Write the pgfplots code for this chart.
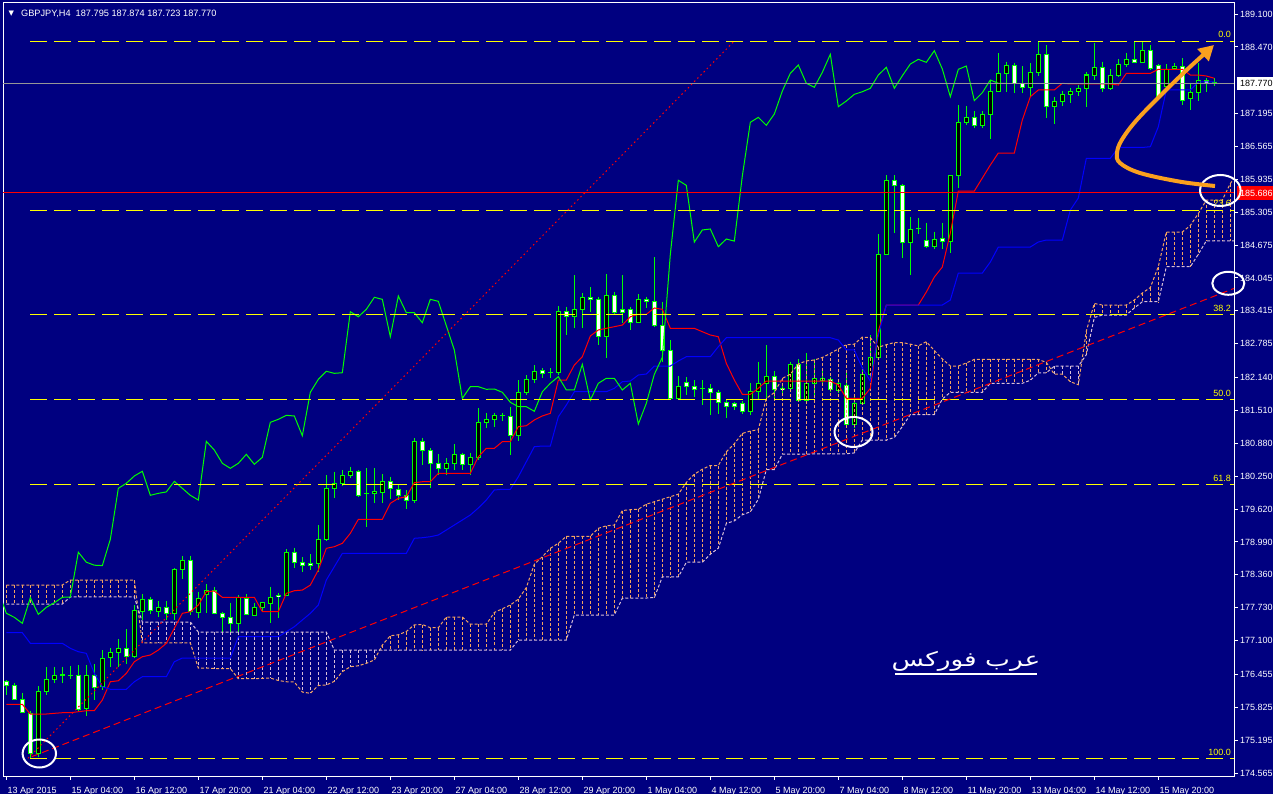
\documentclass[border=0pt]{standalone}
\usepackage{pgfplots}
\pgfplotsset{compat=1.18}
\usepackage{pgfplotstable}
\usepackage{graphicx}
\usepackage{fontspec}
\setmainfont{Liberation Sans}
\newfontfamily\arabicfont[Script=Arabic]{DejaVu Sans}
\newfontfamily\symfont{DejaVu Sans}
\TeXXeTstate=1
\usetikzlibrary{arrows.meta}
\definecolor{bg}{RGB}{0,0,128}
\definecolor{cg}{RGB}{0,255,0}
\definecolor{sandy}{RGB}{244,164,96}
\definecolor{thist}{RGB}{216,191,216}
\definecolor{fibc}{RGB}{255,255,0}
\definecolor{arrc}{RGB}{250,160,30}
\definecolor{lastc}{RGB}{150,150,150}
\newcommand\lbl{\fontsize{9bp}{11bp}\selectfont}

\pgfplotstableread{
i O H L C
0 176.313 176.346 176.059 176.236
1 176.236 176.294 175.963 175.976
2 175.976 176.104 175.708 175.727
3 175.708 175.758 174.847 174.942
4 174.942 176.231 174.866 176.122
5 176.122 176.589 176.059 176.360
6 176.360 176.601 176.294 176.436
7 176.442 176.601 176.294 176.455
8 176.436 176.614 176.370 176.436
9 176.436 176.627 175.758 175.772
10 175.804 176.633 175.657 176.436
11 176.436 176.652 175.963 176.198
12 176.217 176.920 176.155 176.762
13 176.773 176.965 176.601 176.876
14 176.876 177.125 176.601 176.953
15 176.953 177.317 176.652 176.792
16 176.804 177.782 176.762 177.686
17 177.667 177.986 177.495 177.892
18 177.892 177.942 177.610 177.673
19 177.654 177.853 177.558 177.738
20 177.738 177.865 177.495 177.623
21 177.623 178.485 177.495 178.466
22 178.466 178.721 178.274 178.644
23 178.644 178.726 177.591 177.654
24 177.642 178.037 177.527 177.911
25 177.993 178.179 177.636 178.056
26 178.056 178.133 177.623 177.623
27 177.623 177.654 177.240 177.546
28 177.546 177.826 177.240 177.432
29 177.432 177.974 177.271 177.922
30 177.911 177.986 177.591 177.604
31 177.577 177.826 177.571 177.738
32 177.738 177.845 177.654 177.826
33 177.815 178.133 177.444 177.930
34 177.974 178.006 177.539 177.936
35 177.974 178.855 177.960 178.793
36 178.793 178.881 178.487 178.602
37 178.594 178.697 178.420 178.545
38 178.581 178.755 178.453 178.537
39 178.581 179.308 178.420 179.040
40 179.040 180.272 179.014 180.017
41 180.017 180.335 179.837 180.113
42 180.113 180.368 180.062 180.253
43 180.266 180.431 180.209 180.343
44 180.343 180.368 179.856 179.883
45 179.921 180.400 179.270 179.921
46 179.927 180.400 179.730 179.948
47 179.942 180.285 179.730 180.151
48 180.151 180.239 179.806 180.017
49 179.991 180.081 179.793 179.883
50 179.876 179.985 179.615 179.793
51 179.780 180.975 179.730 180.917
52 180.917 180.986 180.463 180.750
53 180.737 180.783 180.017 180.496
54 180.496 180.674 180.272 180.400
55 180.400 180.592 180.272 180.496
56 180.496 180.865 180.368 180.668
57 180.668 180.699 180.368 180.477
58 180.477 180.699 180.272 180.611
59 180.611 181.549 180.559 181.281
60 181.273 181.465 181.166 181.338
61 181.327 181.453 181.197 181.415
62 181.402 181.465 181.312 181.402
63 181.388 181.568 180.655 181.024
64 181.024 182.091 180.929 181.856
65 181.856 182.187 181.804 182.104
66 182.104 182.373 182.028 182.258
67 182.269 182.315 182.124 182.219
68 182.231 182.315 182.124 182.231
69 182.231 183.508 182.187 183.399
70 183.399 183.495 182.953 183.303
71 183.303 184.102 183.081 183.445
72 183.445 183.751 183.081 183.675
73 183.675 183.866 183.399 183.636
74 183.636 183.686 182.761 182.920
75 182.920 184.121 182.518 183.700
76 183.700 183.782 183.336 183.380
77 183.432 184.102 183.176 183.380
78 183.432 183.495 183.049 183.189
79 183.189 183.732 183.176 183.636
80 183.636 183.686 183.464 183.598
81 183.598 184.441 183.112 183.131
82 183.138 183.591 182.440 182.665
83 182.665 182.857 181.740 181.740
84 181.740 182.168 181.740 181.963
85 182.047 182.143 181.804 181.963
86 181.963 182.091 181.771 181.913
87 181.919 182.091 181.612 181.919
88 181.932 182.009 181.421 181.856
89 181.856 181.900 181.434 181.664
90 181.664 181.708 181.357 181.580
91 181.645 181.675 181.517 181.580
92 181.645 181.695 181.434 181.492
93 181.492 182.028 181.421 181.867
94 181.867 182.442 181.708 182.028
95 182.028 182.761 181.740 182.155
96 182.155 182.270 181.740 181.900
97 181.932 182.028 181.799 181.900
98 181.932 182.442 181.900 182.392
99 182.392 182.487 181.676 181.708
100 181.708 182.613 181.651 182.028
101 182.028 182.487 181.771 182.124
102 182.091 182.270 182.028 182.124
103 182.104 182.155 181.867 181.900
104 181.886 182.091 181.836 182.028
105 181.995 182.283 181.197 181.248
106 181.248 181.771 181.166 181.645
107 181.645 182.283 181.612 182.200
108 182.200 182.953 182.058 182.526
109 182.526 184.881 182.474 184.498
110 184.498 186.017 184.485 185.915
111 185.915 186.017 184.900 185.819
112 185.811 185.844 184.422 184.732
113 184.732 185.218 184.102 184.964
114 184.983 185.199 184.887 184.983
115 184.772 185.103 184.613 184.644
116 184.644 184.931 184.594 184.791
117 184.808 185.103 184.594 184.751
118 184.751 185.998 184.529 185.998
119 185.998 187.357 185.774 187.026
120 187.026 187.338 186.974 187.121
121 187.121 187.242 186.911 186.968
122 186.968 187.242 186.911 187.185
123 187.185 187.836 186.700 187.625
124 187.625 188.347 187.612 187.964
125 187.964 188.186 187.612 188.123
126 188.123 188.167 187.593 187.773
127 187.773 188.104 187.593 187.696
128 187.696 188.156 187.516 187.983
129 187.983 188.569 187.913 188.328
130 188.328 188.506 187.115 187.325
131 187.325 187.516 186.988 187.434
132 187.420 187.625 187.338 187.562
133 187.562 187.677 187.389 187.612
134 187.612 187.740 187.530 187.677
135 187.677 187.995 187.325 187.932
136 187.918 188.550 187.836 188.079
137 188.079 188.186 187.612 187.677
138 187.677 188.041 187.645 187.918
139 187.918 188.232 187.899 188.142
140 188.137 188.359 188.091 188.232
141 188.232 188.569 188.167 188.175
142 188.175 188.569 188.156 188.397
143 188.397 188.506 188.028 188.047
144 188.123 188.142 187.486 187.516
145 187.721 188.137 187.677 188.041
146 188.060 188.156 188.028 188.104
147 188.104 188.252 187.357 187.440
148 187.486 187.784 187.262 187.593
149 187.593 188.156 187.440 187.836
150 187.823 187.869 187.612 187.773
151 187.795 187.874 187.723 187.770
}\candles

\pgfplotstableread{
i T K
0 175.881 177.252
1 175.881 177.252
2 175.881 177.252
3 175.695 177.049
4 175.695 177.049
5 175.695 177.049
6 175.708 177.049
7 175.720 177.049
8 175.720 176.953
9 175.739 176.888
10 175.758 176.857
11 175.758 176.474
12 175.963 176.217
13 176.313 176.168
14 176.332 176.168
15 176.474 176.168
16 176.696 176.313
17 176.792 176.409
18 176.825 176.409
19 176.920 176.409
20 177.049 176.409
21 177.336 176.696
22 177.623 176.767
23 177.654 176.767
24 177.782 176.767
25 178.037 176.767
26 178.050 176.767
27 177.930 176.767
28 177.930 176.767
29 177.930 177.176
30 177.930 177.176
31 177.930 177.176
32 177.654 177.176
33 177.654 177.176
34 177.654 177.176
35 178.006 177.271
36 178.056 177.367
37 178.068 177.495
38 178.164 177.623
39 178.452 177.782
40 178.868 178.261
41 178.899 178.516
42 178.964 178.772
43 179.155 178.772
44 179.423 178.772
45 179.423 178.772
46 179.423 178.772
47 179.423 178.772
48 179.730 178.772
49 179.825 178.772
50 179.856 178.772
51 180.124 179.060
52 180.143 179.071
53 180.143 179.090
54 180.304 179.123
55 180.304 179.218
56 180.304 179.314
57 180.304 179.410
58 180.304 179.506
59 180.622 179.640
60 180.783 179.793
61 180.783 179.985
62 180.910 179.998
63 180.910 179.998
64 181.197 180.239
65 181.216 180.527
66 181.325 180.814
67 181.402 180.827
68 181.453 180.827
69 182.091 181.388
70 182.091 181.612
71 182.378 181.867
72 182.537 181.867
73 182.934 181.867
74 183.049 181.867
75 183.081 181.867
76 183.112 181.932
77 183.144 182.059
78 183.303 182.072
79 183.349 182.187
80 183.349 182.206
81 183.470 182.359
82 183.445 182.359
83 183.081 182.359
84 183.081 182.455
85 183.081 182.537
86 183.081 182.537
87 183.016 182.537
88 182.953 182.537
89 182.920 182.729
90 182.411 182.901
91 182.091 182.901
92 181.817 182.901
93 181.817 182.901
94 181.932 182.901
95 182.072 182.901
96 182.072 182.901
97 182.072 182.901
98 182.072 182.901
99 182.072 182.901
100 182.072 182.901
101 182.072 182.901
102 182.072 182.901
103 182.072 182.901
104 181.995 182.857
105 181.740 182.666
106 181.740 182.666
107 181.740 182.321
108 181.932 182.072
109 183.029 182.953
110 183.527 183.527
111 183.527 183.527
112 183.527 183.527
113 183.527 183.527
114 183.527 183.527
115 183.776 183.527
116 184.063 183.527
117 184.255 183.527
118 184.906 183.623
119 185.710 184.140
120 185.710 184.140
121 185.710 184.140
122 185.959 184.140
123 186.208 184.351
124 186.438 184.638
125 186.438 184.638
126 186.438 184.638
127 187.070 184.638
128 187.516 184.638
129 187.645 184.734
130 187.645 184.772
131 187.645 184.772
132 187.773 184.772
133 187.760 185.346
134 187.760 185.576
135 187.760 186.337
136 187.760 186.337
137 187.760 186.337
138 187.760 186.337
139 187.740 186.544
140 187.964 186.544
141 187.964 186.544
142 187.964 186.544
143 187.964 186.559
144 188.041 186.942
145 188.041 187.645
146 188.041 187.645
147 188.041 187.645
148 187.932 187.645
149 187.932 187.798
150 187.913 187.798
151 187.869 187.798
}\tk

\pgfplotstableread{
i A B
0 178.165 177.801
1 178.165 177.801
2 178.165 177.801
3 178.165 177.801
4 178.165 177.801
5 178.165 177.801
6 178.165 177.801
7 178.165 177.801
8 178.261 177.936
9 178.261 177.936
10 178.261 177.936
11 178.261 177.936
12 178.261 177.936
13 178.261 177.936
14 178.261 177.936
15 178.261 177.936
16 178.261 177.936
17 177.055 177.457
18 177.055 177.457
19 177.055 177.457
20 177.055 177.457
21 177.055 177.457
22 177.055 177.457
23 177.055 177.457
24 176.576 177.265
25 176.576 177.265
26 176.566 177.265
27 176.566 177.265
28 176.566 177.265
29 176.371 177.265
30 176.371 177.265
31 176.371 177.265
32 176.379 177.265
33 176.384 177.265
34 176.337 177.265
35 176.313 177.265
36 176.308 177.265
37 176.116 177.265
38 176.091 177.265
39 176.241 177.265
40 176.250 177.265
41 176.321 176.920
42 176.505 176.920
43 176.601 176.920
44 176.618 176.920
45 176.666 176.920
46 176.729 176.920
47 177.016 176.920
48 177.194 176.920
49 177.212 176.920
50 177.275 176.920
51 177.403 176.920
52 177.409 176.920
53 177.347 176.920
54 177.347 176.920
55 177.552 176.920
56 177.552 176.920
57 177.552 176.920
58 177.414 176.920
59 177.414 176.920
60 177.414 176.920
61 177.639 176.920
62 177.711 176.920
63 177.782 176.920
64 177.894 177.112
65 178.117 177.112
66 178.564 177.112
67 178.707 177.112
68 178.868 177.112
69 178.964 177.112
70 179.098 177.112
71 179.098 177.591
72 179.098 177.591
73 179.098 177.591
74 179.251 177.591
75 179.299 177.591
76 179.314 177.591
77 179.592 177.911
78 179.607 177.916
79 179.617 177.916
80 179.713 177.916
81 179.760 177.926
82 179.808 178.320
83 179.856 178.320
84 179.904 178.320
85 180.130 178.602
86 180.287 178.602
87 180.383 178.602
88 180.454 178.755
89 180.454 178.870
90 180.718 179.345
91 180.871 179.393
92 181.068 179.511
93 181.114 179.567
94 181.139 179.807
95 181.739 180.373
96 181.851 180.373
97 182.122 180.670
98 182.202 180.670
99 182.399 180.670
100 182.457 180.670
101 182.474 180.679
102 182.522 180.679
103 182.600 180.679
104 182.687 180.679
105 182.767 180.679
106 182.777 180.695
107 182.914 180.942
108 182.901 180.942
109 182.719 180.942
110 182.767 180.942
111 182.809 180.990
112 182.809 181.200
113 182.777 181.430
114 182.744 181.430
115 182.825 181.430
116 182.656 181.430
117 182.495 181.727
118 182.359 181.856
119 182.359 181.856
120 182.417 181.856
121 182.486 181.856
122 182.486 181.856
123 182.486 182.028
124 182.486 182.028
125 182.486 182.028
126 182.486 182.028
127 182.486 182.028
128 182.486 182.086
129 182.486 182.229
130 182.427 182.229
131 182.202 182.356
132 182.202 182.356
133 182.059 182.356
134 182.001 182.356
135 183.029 182.576
136 183.556 183.288
137 183.527 183.336
138 183.527 183.336
139 183.527 183.336
140 183.527 183.336
141 183.623 183.472
142 183.757 183.590
143 183.862 183.590
144 184.264 183.590
145 184.925 184.261
146 184.925 184.261
147 184.925 184.261
148 185.050 184.261
149 185.279 184.500
150 185.538 184.757
151 185.538 184.757
152 185.538 184.757
153 185.854 184.757
154 186.074 184.757
}\cloud

\pgfplotsset{
  vbar/.style n args={2}{draw=none, mark=none, forget plot,
    error bars/.cd, y dir=minus, y explicit, error mark=none,
    error bar style={draw=#1, line width=#2, solid}},
  hbar/.style={draw=none, mark=none, forget plot,
    error bars/.cd, y dir=minus, y explicit, error mark=none,
    error bar style={draw=#1, line width=1bp, dash pattern=on 3bp off 2bp}},
  fibline/.style={fibc, line width=1bp, dash pattern=on 17bp off 7bp},
}

\begin{document}
\begin{tikzpicture}
\useasboundingbox (-3bp,-18bp) rectangle (1270bp,776bp);
\fill[bg] (-3bp,-18bp) rectangle (1270bp,776bp);
\begin{axis}[
  at={(0,0)}, anchor=south west,
  width=1231bp, height=773bp, scale only axis,
  xmin=-0.416, xmax=153.46, ymin=174.508, ymax=189.311,
  axis line style={white, line width=1bp},
  clip mode=individual,
  xtick={0,8,...,144},
  xticklabels={13 Apr 2015,15 Apr 04:00,16 Apr 12:00,17 Apr 20:00,21 Apr 04:00,22 Apr 12:00,23 Apr 20:00,27 Apr 04:00,28 Apr 12:00,29 Apr 20:00,1 May 04:00,4 May 12:00,5 May 20:00,7 May 04:00,8 May 12:00,11 May 20:00,13 May 04:00,14 May 12:00,15 May 20:00},
  ytick={189.100,188.470,187.195,186.565,185.935,185.305,184.675,184.045,183.415,182.785,182.140,181.510,180.880,180.250,179.620,178.990,178.360,177.730,177.100,176.455,175.825,175.195,174.565},
  yticklabels={189.100,188.470,187.195,186.565,185.935,185.305,184.675,184.045,183.415,182.785,182.140,181.510,180.880,180.250,179.620,178.990,178.360,177.730,177.100,176.455,175.825,175.195,174.565},
  xtick pos=left, ytick pos=right, yticklabel pos=right,
  tick align=outside, major tick length=4bp,
  tick style={white, line width=1bp},
  xticklabel style={font=\lbl, text=white, anchor=base west, inner sep=0pt, xshift=1bp, yshift=-14bp},
  yticklabel style={font=\lbl, text=white, anchor=west, inner sep=0pt, xshift=2bp},
]
% candles: wicks, outer bodies, inner fills
\addplot[vbar={cg}{1bp}] table[x=i, y=H, y error minus expr={\thisrow{H}-\thisrow{L}}]{\candles};
\addplot[vbar={cg}{5bp}] table[x=i, y expr={max(\thisrow{O},\thisrow{C})+0.0096}, y error minus expr={abs(\thisrow{O}-\thisrow{C})+0.0192}]{\candles};
\addplot[restrict expr to domain={\thisrow{C}-\thisrow{O}}{0:100}, vbar={black}{3bp}] table[x=i, y expr={\thisrow{C}-0.0096}, y error minus expr={max(\thisrow{C}-\thisrow{O}-0.0192,0)}]{\candles};
\addplot[restrict expr to domain={\thisrow{O}-\thisrow{C}}{0.00001:100}, vbar={white}{3bp}] table[x=i, y expr={\thisrow{O}-0.0096}, y error minus expr={max(\thisrow{O}-\thisrow{C}-0.0192,0)}]{\candles};
% cloud
\addplot[restrict expr to domain={\thisrow{A}-\thisrow{B}}{0:100}, hbar=sandy] table[x=i, y=A, y error minus expr={\thisrow{A}-\thisrow{B}}]{\cloud};
\addplot[restrict expr to domain={\thisrow{B}-\thisrow{A}}{0.00001:100}, hbar=thist] table[x=i, y=B, y error minus expr={\thisrow{B}-\thisrow{A}}]{\cloud};
\addplot[sandy, line width=1bp, dash pattern=on 3bp off 2bp] table[x=i, y=A]{\cloud};
\addplot[thist, line width=1bp, dash pattern=on 3bp off 2bp] table[x=i, y=B]{\cloud};
% ichimoku lines
\addplot[red, line width=1bp] table[x=i, y=T]{\tk};
\addplot[blue, line width=1bp] table[x=i, y=K]{\tk};
\addplot[cg, line width=1bp] table[x expr=\thisrow{i}-26, y=C]{\candles};
% horizontal lines
\addplot[lastc, line width=1bp] coordinates {(-0.416,187.770) (153.46,187.770)};
\addplot[red, line width=1bp] coordinates {(-0.416,185.682) (153.46,185.682)};
% fibonacci levels
\addplot[fibline] coordinates {(3,188.573) (153.46,188.573)};
\addplot[fibline] coordinates {(3,185.337) (153.46,185.337)};
\addplot[fibline] coordinates {(3,183.345) (153.46,183.345)};
\addplot[fibline] coordinates {(3,181.718) (153.46,181.718)};
\addplot[fibline] coordinates {(3,180.090) (153.46,180.090)};
\addplot[fibline] coordinates {(3,174.843) (153.46,174.843)};
% trend lines
\addplot[red, line width=1bp, dash pattern=on 1.5bp off 3bp] coordinates {(2.7,174.847) (91,188.583)};
\addplot[red, line width=1bp, dash pattern=on 7bp off 4bp] coordinates {(3.17,174.878) (153.46,183.845)};
\end{axis}
% title
\node[anchor=base west, inner sep=0pt, text=white, font=\symfont\fontsize{7bp}{8bp}\selectfont] at (5.5bp,760bp) {▼};
\node[anchor=base west, inner sep=0pt, text=white, font=\fontsize{9.2bp}{11bp}\selectfont] at (18bp,759bp) {GBPJPY,H4\ \ 187.795 187.874 187.723 187.770};
% price boxes
\fill[white] (1234bp,685.5bp) rectangle (1270bp,699bp);
\node[anchor=west, inner sep=0pt, text=black, font=\lbl] at (1237bp,692.3bp) {187.770};
\fill[red] (1234bp,576bp) rectangle (1270bp,589.5bp);
\node[anchor=west, inner sep=0pt, text=white, font=\lbl] at (1237bp,582.7bp) {185.686};
% fib labels
\foreach \t/\yy in {0.0/738, 23.6/569, 38.2/464, 50.0/379.4, 61.8/294.7, 100.0/20.7}
  \node[anchor=base east, inner sep=0pt, text=fibc, font=\lbl] at (1228bp,\yy bp) {\t};
% circles
\draw[white, line width=2bp] (36.3bp,22.5bp) ellipse [x radius=16.7bp, y radius=14bp];
\draw[white, line width=2bp] (850.5bp,344bp) ellipse [x radius=19bp, y radius=15bp];
\draw[white, line width=2bp] (1217.3bp,585.5bp) ellipse [x radius=20.3bp, y radius=15.5bp];
\draw[white, line width=2bp] (1225.3bp,492.7bp) ellipse [x radius=16bp, y radius=11.5bp];
% arrow
\draw[arrc, line width=4bp, -{Triangle[length=15bp, width=16bp]}] plot[smooth, tension=0.6] coordinates {(1212bp,590bp) (1177bp,594.3bp) (1137bp,603bp) (1117bp,613bp) (1114bp,623bp) (1118.7bp,636bp) (1133.7bp,656bp) (1160bp,683bp) (1183.7bp,706bp) (1202bp,722.7bp) (1211bp,731bp)};
% arabic text
\node[anchor=base, inner sep=0pt, text=white] at (963bp,109bp) {\scalebox{1.32}[1.0]{\arabicfont\fontsize{20bp}{24bp}\selectfont\beginR عرب فوركس\endR}};
\draw[white, line width=2bp] (892bp,101.5bp) -- (1034bp,101.5bp);
\end{tikzpicture}
\end{document}
